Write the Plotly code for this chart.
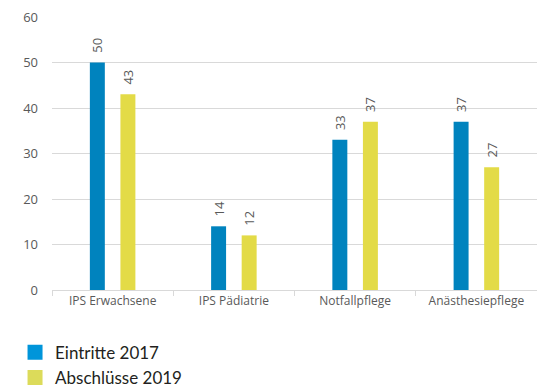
import plotly.graph_objects as go

categories = ["IPS Erwachsene", "IPS Pädiatrie", "Notfallpflege", "Anästhesiepflege"]
series_names = ["Eintritte 2017", "Abschlüsse 2019"]
eintritte_2017 = [50, 14, 33, 37]
abschluesse_2019 = [43, 12, 37, 27]
y_ticks = [0, 10, 20, 30, 40, 50, 60]

bar_colors = ["#0083BE", "#E3DB47"]
legend_colors = ["#0095DA", "#DCDB5A"]

fig = go.Figure()
for name, vals, col in zip(series_names, [eintritte_2017, abschluesse_2019], bar_colors):
    fig.add_trace(go.Bar(
        x=categories, y=vals, name=name, marker_color=col,
        marker_line_width=0,
        text=["\u00a0\u00a0" + str(v) for v in vals], textposition="outside", textangle=-90,
        textfont=dict(family="Open Sans", size=13, color="#595959"),
        constraintext="none",
        cliponaxis=False, showlegend=False,
    ))
for name, col in zip(series_names, legend_colors):
    fig.add_trace(go.Scatter(
        x=[None], y=[None], mode="markers", name=name,
        marker=dict(symbol="square", size=15, color=col),
    ))

fig.update_layout(
    width=537, height=387,
    margin=dict(l=52, r=0, t=17, b=97, autoexpand=False),
    paper_bgcolor="white", plot_bgcolor="white",
    barmode="group", bargap=0.496, bargroupgap=0.51,
    font=dict(family="Open Sans", color="#595959"),
    legend=dict(
        x=0.028, xanchor="left", y=0.135, yanchor="top",
        xref="container", yref="container",
        font=dict(family="Lato", size=17, color="#231f20"),
        itemsizing="trace", tracegroupgap=0, itemwidth=30,
        bgcolor="rgba(0,0,0,0)",
    ),
    xaxis=dict(
        type="category", showgrid=False, showline=True, linecolor="#d9d9d9",
        ticks="outside", tickson="boundaries", ticklen=5, tickcolor="#d9d9d9",
        tickfont=dict(family="Open Sans", size=12, color="#595959"), tickangle=0, automargin=False,
    ),
    yaxis=dict(
        range=[0, 60], tickvals=y_ticks, showgrid=True, gridcolor="#d9d9d9",
        zeroline=False, showline=False, ticks="", automargin=False,
        tickfont=dict(family="Open Sans", size=13, color="#595959"), ticklabelstandoff=13,
    ),
)

fig.write_html("out.html")
